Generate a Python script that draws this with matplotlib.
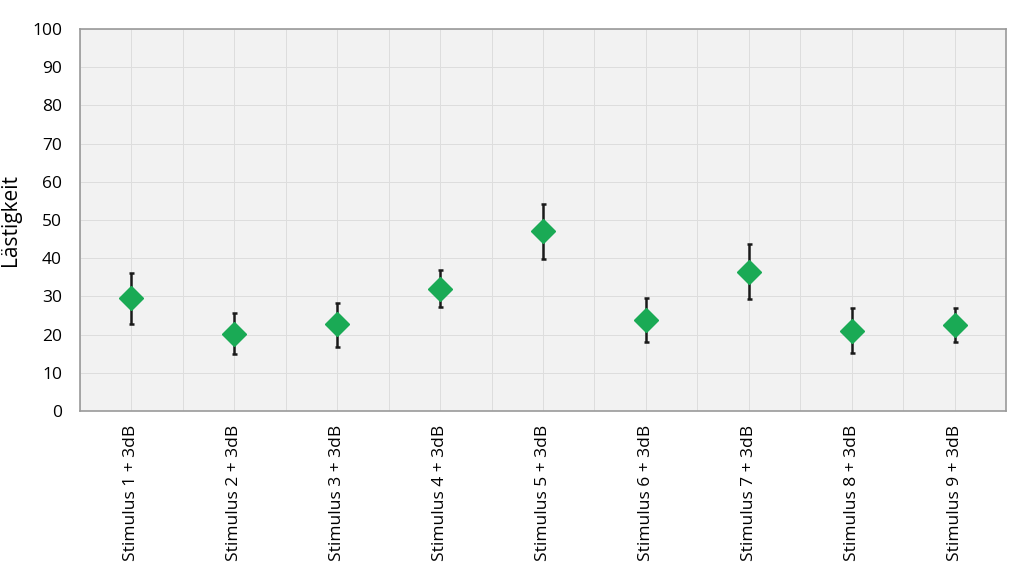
import matplotlib
matplotlib.use("Agg")
import matplotlib.pyplot as plt
import numpy as np

categories = [f"Stimulus {i} + 3dB" for i in range(1, 10)]
means = [29.5, 20.2, 22.7, 31.9, 47.0, 23.7, 36.4, 21.0, 22.4]
upper = [36.2, 25.6, 28.4, 36.8, 54.3, 29.6, 43.8, 26.9, 26.9]
lower = [22.7, 14.8, 16.8, 27.1, 39.8, 18.0, 29.2, 15.3, 18.0]
y_ticks = list(range(0, 101, 10))

plt.rcParams['font.family'] = ['Open Sans', 'DejaVu Sans']

fig = plt.figure(figsize=(10.24, 5.76), dpi=100)
ax = fig.add_axes([80/1024, 1 - 411/576, 926/1024, 382/576])
ax.set_facecolor('#f2f2f2')

x = np.arange(len(categories))
m = np.array(means)
err = [m - np.array(lower), np.array(upper) - m]
ax.errorbar(x, m, yerr=err, fmt='none', ecolor='#1a1a1a', elinewidth=1.8,
            capsize=1.8, capthick=1.8, zorder=3)
ax.plot(x, m, linestyle='none', marker='D', markersize=12.5,
        markerfacecolor='#1aaa55', markeredgecolor='#1aaa55', zorder=4)

ax.set_xlim(-0.5, len(categories) - 0.5)
ax.set_ylim(0, 100)
ax.set_yticks(y_ticks)
ax.set_xticks(x)
ax.set_xticks(np.arange(len(categories) + 1) - 0.5, minor=True)
ax.set_xticklabels(categories, rotation=90, fontsize=12.5)
ax.tick_params(axis='y', labelsize=12.5, length=0, pad=13)
ax.tick_params(axis='x', which='both', length=0, pad=10)
ax.grid(True, which='both', color='#dddddd', linewidth=0.7, zorder=0)
ax.set_axisbelow(True)
for s in ax.spines.values():
    s.set_color('#9a9a9a')
    s.set_linewidth(1.2)
ax.set_ylabel('Lästigkeit', fontsize=15, labelpad=8)

fig.savefig('out.png', dpi=100)
